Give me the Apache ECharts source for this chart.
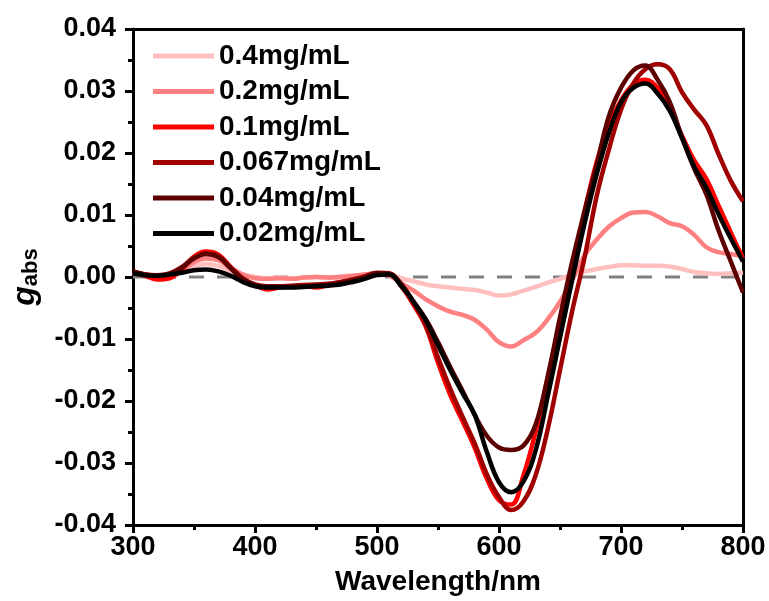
<!DOCTYPE html>
<html>
<head>
<meta charset="utf-8">
<script src="https://cdn.jsdelivr.net/npm/echarts@6/dist/echarts.min.js"></script>
<style>html,body{margin:0;padding:0;background:#fff;}#c{width:769px;height:601px;}</style>
</head>
<body>
<div id="c"></div>
<script>
const wavelength = [300,310,320,330,340,350,360,370,380,390,400,410,420,430,440,450,460,470,480,490,500,510,520,530,540,550,560,570,580,590,600,610,620,630,640,650,660,670,680,690,700,710,720,730,740,750,760,770,780,790,800];
const seriesNames = ['0.4mg/mL','0.2mg/mL','0.1mg/mL','0.067mg/mL','0.04mg/mL','0.02mg/mL'];
const s04 = [0.0007,0.0004,0.0002,0.0005,0.0010,0.0017,0.0021,0.0018,0.0010,0.0004,0.0000,-0.0002,-0.0001,-0.0002,-0.0001,0.0000,-0.0001,0.0001,0.0002,0.0004,0.0006,0.0004,-0.0002,-0.0007,-0.0012,-0.0015,-0.0017,-0.0019,-0.0021,-0.0025,-0.0030,-0.0028,-0.0022,-0.0016,-0.0009,-0.0003,0.0004,0.0009,0.0013,0.0016,0.0019,0.0019,0.0018,0.0018,0.0017,0.0013,0.0008,0.0006,0.0005,0.0006,0.0007];
const s02 = [0.0008,0.0003,0.0000,0.0003,0.0011,0.0024,0.0030,0.0027,0.0015,0.0004,-0.0002,-0.0003,-0.0002,-0.0003,-0.0001,0.0000,-0.0001,0.0000,0.0002,0.0004,0.0006,0.0002,-0.0010,-0.0022,-0.0036,-0.0047,-0.0056,-0.0061,-0.0069,-0.0085,-0.0105,-0.0112,-0.0102,-0.0090,-0.0068,-0.0040,-0.0005,0.0035,0.0060,0.0081,0.0095,0.0104,0.0105,0.0098,0.0087,0.0082,0.0068,0.0048,0.0040,0.0037,0.0034];
const s01 = [0.0008,0.0002,-0.0004,-0.0002,0.0012,0.0033,0.0041,0.0036,0.0016,-0.0003,-0.0013,-0.0020,-0.0017,-0.0015,-0.0014,-0.0017,-0.0013,-0.0010,-0.0005,0.0000,0.0005,0.0005,-0.0015,-0.0045,-0.0080,-0.0138,-0.0190,-0.0232,-0.0275,-0.0325,-0.0360,-0.0367,-0.0320,-0.0250,-0.0162,-0.0073,0.0015,0.0105,0.0185,0.0245,0.0285,0.0310,0.0318,0.0305,0.0272,0.0228,0.0188,0.0158,0.0115,0.0072,0.0030];
const s0067 = [0.0009,0.0004,0.0003,0.0006,0.0016,0.0031,0.0038,0.0034,0.0016,-0.0002,-0.0012,-0.0015,-0.0015,-0.0014,-0.0013,-0.0012,-0.0011,-0.0008,-0.0004,0.0001,0.0007,0.0006,-0.0012,-0.0042,-0.0078,-0.0130,-0.0180,-0.0225,-0.0268,-0.0318,-0.0355,-0.0376,-0.0362,-0.0320,-0.0245,-0.0150,-0.0055,0.0030,0.0130,0.0205,0.0270,0.0312,0.0335,0.0343,0.0335,0.0298,0.0270,0.0245,0.0198,0.0155,0.0122];
const s004 = [0.0009,0.0004,0.0002,0.0005,0.0015,0.0030,0.0037,0.0032,0.0014,-0.0004,-0.0013,-0.0016,-0.0016,-0.0016,-0.0015,-0.0014,-0.0013,-0.0010,-0.0006,-0.0001,0.0006,0.0005,-0.0012,-0.0040,-0.0068,-0.0105,-0.0145,-0.0183,-0.0222,-0.0256,-0.0275,-0.0279,-0.0272,-0.0238,-0.0160,-0.0065,0.0025,0.0105,0.0180,0.0259,0.0305,0.0333,0.0341,0.0318,0.0282,0.0225,0.0175,0.0133,0.0075,0.0025,-0.0025];
const s002 = [0.0006,0.0003,0.0002,0.0004,0.0007,0.0011,0.0012,0.0009,0.0002,-0.0008,-0.0015,-0.0017,-0.0017,-0.0017,-0.0016,-0.0015,-0.0014,-0.0012,-0.0008,-0.0003,0.0003,0.0004,-0.0015,-0.0040,-0.0070,-0.0110,-0.0150,-0.0187,-0.0222,-0.0282,-0.0331,-0.0347,-0.0330,-0.0280,-0.0192,-0.0098,-0.0005,0.0085,0.0165,0.0232,0.0282,0.0305,0.0312,0.0296,0.0268,0.0224,0.0178,0.0144,0.0101,0.0062,0.0025];
const colors = ['#ffbfbf','#ff8080','#ff0000','#a00000','#5c0000','#000000'];
const allSeries = [s04,s02,s01,s0067,s004,s002];
const baselineX = [300,800];
const baselineY = [0,0];

const FONT = '"Liberation Sans", Arial, sans-serif';
const chart = echarts.init(document.getElementById('c'), null, {renderer:'canvas'});
const lineSeries = allSeries.map((vals,i)=>({
  name: seriesNames[i], type:'line', showSymbol:false, symbol:'none', smooth:0.4,
  data: wavelength.map((w,j)=>[w, vals[j]]),
  lineStyle:{color:colors[i], width:4.5}, itemStyle:{color:colors[i]}, z: 3+i, clip:true
}));
chart.setOption({
  animation:false,
  backgroundColor:'#fff',
  grid:{left:126, right:26, top:29, bottom:75, containLabel:false},
  legend:{
    orient:'vertical', left:148, top:37, padding:5, itemWidth:61, itemHeight:5, itemGap:7.5,
    icon:'rect',
    data: seriesNames.map((n,i)=>({name:n, itemStyle:{color:colors[i]}})),
    textStyle:{fontFamily:FONT, fontWeight:'bold', fontSize:28, color:'#000', lineHeight:28}
  },
  xAxis:[{
    type:'value', min:300, max:800, interval:100,
    axisLine:{show:true, onZero:false, lineStyle:{color:'#000', width:3}},
    axisTick:{show:true, inside:false, length:8, lineStyle:{color:'#000', width:3}},
    minorTick:{show:true, splitNumber:2, length:5, lineStyle:{color:'#000', width:3}},
    splitLine:{show:false},
    axisLabel:{fontFamily:FONT, fontWeight:'bold', fontSize:27, color:'#000', margin:9},
    name:'Wavelength/nm', nameLocation:'middle', nameGap:43,
    nameTextStyle:{fontFamily:FONT, fontWeight:'bold', fontSize:28, color:'#000'}
  },{
    type:'value', position:'top', min:300, max:800,
    axisLine:{show:true, onZero:false, lineStyle:{color:'#000', width:3}},
    axisTick:{show:false}, axisLabel:{show:false}, splitLine:{show:false}
  }],
  yAxis:[{
    type:'value', min:-0.04, max:0.04, interval:0.01,
    axisLine:{show:true, onZero:false, lineStyle:{color:'#000', width:3}},
    axisTick:{show:true, inside:false, length:8, lineStyle:{color:'#000', width:3}},
    minorTick:{show:true, splitNumber:2, length:5, lineStyle:{color:'#000', width:3}},
    splitLine:{show:false},
    axisLabel:{fontFamily:FONT, fontWeight:'bold', fontSize:27, color:'#000', margin:17,
      formatter:(v)=>v.toFixed(2)},
    name:'{g|g}{s|abs}', nameLocation:'middle', nameGap:92, nameRotate:90,
    nameTextStyle:{fontFamily:FONT, fontWeight:'bold', color:'#000', rich:{
      g:{fontFamily:FONT, fontWeight:'bold', fontStyle:'italic', fontSize:32, color:'#000', lineHeight:32},
      s:{fontFamily:FONT, fontWeight:'bold', fontSize:22, color:'#000', padding:[12,0,0,0], lineHeight:32}
    }}
  },{
    type:'value', position:'right', min:-0.04, max:0.04,
    axisLine:{show:true, onZero:false, lineStyle:{color:'#000', width:3}},
    axisTick:{show:false}, axisLabel:{show:false}, splitLine:{show:false}
  }],
  series:[{
    name:'baseline', type:'line', showSymbol:false, symbol:'none', silent:true,
    data: baselineX.map((x,i)=>[x, baselineY[i]]),
    lineStyle:{color:'#808080', width:3, type:[15,13]}, z:2
  }].concat(lineSeries)
});
</script>
</body>
</html>
